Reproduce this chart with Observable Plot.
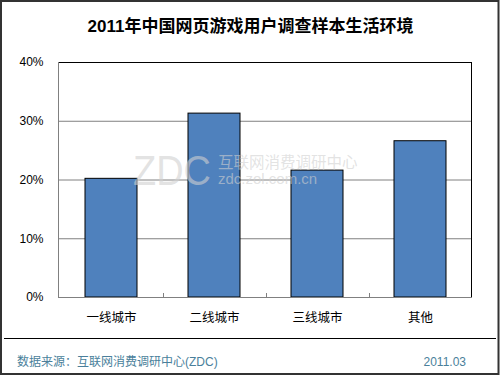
<!DOCTYPE html>
<html>
<head>
<meta charset="utf-8">
<script src="https://cdn.jsdelivr.net/npm/d3@7"></script>
<script src="https://cdn.jsdelivr.net/npm/@observablehq/plot@0.6"></script>
<style>
  html, body { margin: 0; padding: 0; background: #fff; }
  #chart svg { display: block; }
</style>
</head>
<body>
<div id="chart"></div>
<script>
const titleText = "2011年中国网页游戏用户调查样本生活环境";
const categories = ["一线城市", "二线城市", "三线城市", "其他"];
const values = [0.202, 0.313, 0.216, 0.266];
const yTicks = [0, 0.1, 0.2, 0.3, 0.4];
const gridTicks = [0.1, 0.2, 0.3];
const sourceText = "数据来源：互联网消费调研中心(ZDC)";
const dateText = "2011.03";
const watermarkBig = "ZDC";
const watermarkCn = "互联网消费调研中心";
const watermarkUrl = "zdc.zol.com.cn";

const data = categories.map((c, i) => ({category: c, value: values[i]}));
const FONT = "'Liberation Sans', Arial, 'Noto Sans CJK SC', sans-serif";

const W = 500, H = 375;
const mL = 58, mR = 28, mT = 62, mB = 78;

const chart = Plot.plot({
  width: W,
  height: H,
  marginLeft: mL,
  marginRight: mR,
  marginTop: mT,
  marginBottom: mB,
  style: {fontFamily: FONT, background: "#fff", color: "#000"},
  x: {domain: categories, paddingInner: 0.5, paddingOuter: 0.25, label: null},
  y: {domain: [0, 0.4], label: null},
  marks: [
    Plot.ruleY(gridTicks, {stroke: "#808080", strokeWidth: 1}),
    Plot.ruleY([0.4], {stroke: "#000", strokeWidth: 1}),
    Plot.barY(data, {x: "category", y: "value", fill: "#4f81bd", stroke: "#000", strokeWidth: 1}),
    Plot.ruleY([0], {stroke: "#808080", strokeWidth: 1}),
    Plot.axisY({ticks: yTicks, tickFormat: d3.format(".0%"), tickSize: 0, tickPadding: 15, fontSize: 12, label: null}),
    Plot.axisX({tickSize: 0, tickPadding: 16, fontSize: 12.5, label: null})
  ]
});

document.getElementById("chart").appendChild(chart);

const svg = d3.select(chart);
const xs = chart.scale("x");
const ys = chart.scale("y");
const yTop = ys.apply(0.4), yBot = ys.apply(0);
const left = xs.range[0], right = xs.range[1];

// left axis line (gray) and right frame line (black)
svg.append("line").attr("x1", left + 0.5).attr("x2", left + 0.5).attr("y1", yTop).attr("y2", yBot)
  .attr("stroke", "#808080");
svg.append("line").attr("x1", right - 0.5).attr("x2", right - 0.5).attr("y1", yTop).attr("y2", yBot)
  .attr("stroke", "#000");

// small category boundary ticks on the bottom axis
const centers = categories.map(c => xs.apply(c) + xs.bandwidth / 2);
for (let i = 0; i < centers.length - 1; i++) {
  const bx = Math.round((centers[i] + centers[i + 1]) / 2) + 0.5;
  svg.append("line").attr("x1", bx).attr("x2", bx).attr("y1", yBot - 4).attr("y2", yBot)
    .attr("stroke", "#808080");
}

// watermark
const wm = svg.append("g").attr("fill", "#d0d0d0").attr("fill-opacity", 0.6)
  .attr("font-family", FONT).attr("text-anchor", "start");
wm.append("text").attr("x", 133).attr("y", 185).attr("font-size", 42).attr("font-weight", 300)
  .attr("textLength", 78).attr("lengthAdjust", "spacingAndGlyphs").text(watermarkBig);
wm.append("text").attr("x", 218).attr("y", 168).attr("font-size", 15.5).text(watermarkCn);
wm.append("text").attr("x", 218).attr("y", 184).attr("font-size", 15).text(watermarkUrl);

// title
svg.append("text").attr("x", 250.5).attr("y", 32).attr("text-anchor", "middle")
  .attr("font-size", 17).attr("font-weight", "bold").attr("font-family", FONT).attr("fill", "#000")
  .text(titleText);

// separator line
svg.append("line").attr("x1", 4).attr("x2", 496).attr("y1", 338.5).attr("y2", 338.5).attr("stroke", "#000");

// footer
svg.append("text").attr("x", 17).attr("y", 366).attr("text-anchor", "start").attr("font-size", 12)
  .attr("font-family", FONT).attr("fill", "#4a7f9b").text(sourceText);
svg.append("text").attr("x", 466).attr("y", 366).attr("text-anchor", "end").attr("font-size", 12)
  .attr("font-family", FONT).attr("fill", "#4a7f9b").text(dateText);

// outer border
svg.append("rect").attr("x", 1).attr("y", 1).attr("width", W - 2.5).attr("height", H - 2)
  .attr("fill", "none").attr("stroke", "#333").attr("stroke-width", 2);
</script>
</body>
</html>
